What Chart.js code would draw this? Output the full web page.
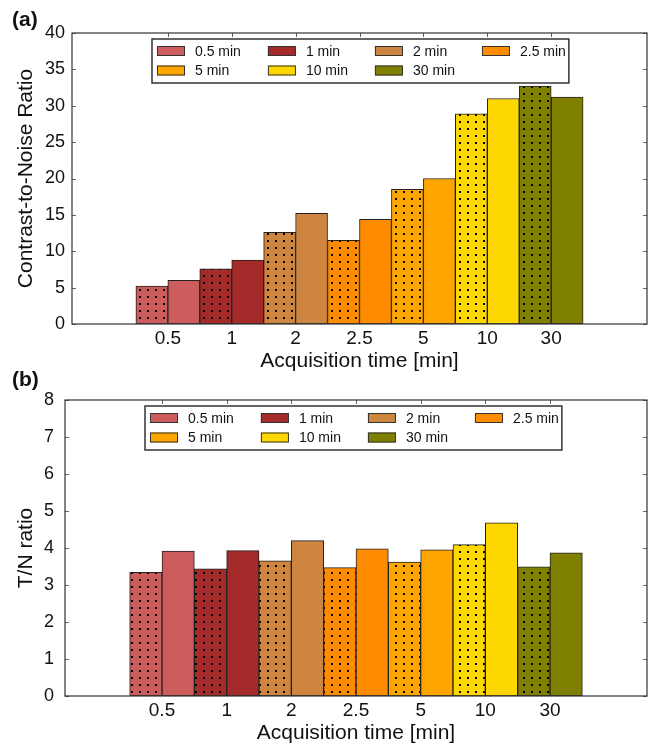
<!DOCTYPE html>
<html>
<head>
<meta charset="utf-8">
<script src="https://cdn.jsdelivr.net/npm/chart.js@4.4.1/dist/chart.umd.min.js"></script>
<style>
    html, body { margin: 0; padding: 0; background: #fff; }
    body { width: 654px; height: 750px; position: relative; overflow: hidden; }
    .panel { position: absolute; left: 0; width: 654px; }
    #panelA { top: 0; height: 380px; }
    #panelB { top: 360px; height: 390px; }
</style>
</head>
<body>
<div class="panel" id="panelA"><canvas id="cnrChart" width="654" height="380"></canvas></div>
<div class="panel" id="panelB"><canvas id="tnChart" width="654" height="390"></canvas></div>
<script>
// Acquisition times on the x axis
const acqTimes = ['0.5', '1', '2', '2.5', '5', '10', '30'];
const legendLabels = ['0.5 min', '1 min', '2 min', '2.5 min', '5 min', '10 min', '30 min'];
const barColors = ['#cd5c5c', '#a52a2a', '#cd853f', '#ff8c00', '#ffa500', '#ffd700', '#808000'];

// (a) contrast-to-noise ratio: dotted bar first, plain bar second
const cnrDotted = [5.2, 7.6, 12.6, 11.5, 18.5, 28.9, 32.7];
const cnrPlain = [6.0, 8.8, 15.2, 14.4, 20.0, 31.0, 31.2];
const cnrTicks = [0, 5, 10, 15, 20, 25, 30, 35, 40];

// (b) T/N ratio
const tnDotted = [3.34, 3.44, 3.65, 3.47, 3.62, 4.09, 3.49];
const tnPlain = [3.92, 3.93, 4.20, 3.98, 3.95, 4.68, 3.87];
const tnTicks = [0, 1, 2, 3, 4, 5, 6, 7, 8];

const FONT = '"Liberation Sans", Arial, Helvetica, sans-serif';
Chart.defaults.font.family = FONT;
Chart.defaults.color = '#111';

// dotted hatch like matplotlib '.'
function makeDots(color) {
    const c = document.createElement('canvas');
    c.width = 8;
    c.height = 7;
    const g = c.getContext('2d');
    g.fillStyle = color;
    g.fillRect(0, 0, 8, 7);
    g.fillStyle = '#000';
    g.fillRect(3, 2, 2, 2);
    return g.createPattern(c, 'repeat');
}

// frame + inward ticks, matplotlib classic style
const panelFrame = {
    id: 'panelFrame',
    afterDatasetsDraw(chart) {
        const { ctx, chartArea: a, scales: { x, y } } = chart;
        ctx.save();
        ctx.strokeStyle = '#666';
        ctx.lineWidth = 1;
        ctx.beginPath();
        y.ticks.forEach(t => {
            const py = Math.round(y.getPixelForValue(t.value)) + 0.5;
            ctx.moveTo(a.left, py); ctx.lineTo(a.left + 4, py);
            ctx.moveTo(a.right, py); ctx.lineTo(a.right - 4, py);
        });
        for (let i = 1; i <= acqTimes.length; i++) {
            const px = Math.round(x.getPixelForValue(i)) + 0.5;
            ctx.moveTo(px, a.top); ctx.lineTo(px, a.top + 4);
        }
        ctx.stroke();
        ctx.strokeStyle = '#333';
        ctx.lineWidth = 1.2;
        ctx.strokeRect(a.left, a.top, a.right - a.left, a.bottom - a.top);
        ctx.restore();
    }
};

// legend box drawn inside the plot area, 4 columns
const inlineLegend = {
    id: 'inlineLegend',
    afterDraw(chart, args, o) {
        const { ctx, chartArea: a } = chart;
        ctx.save();
        ctx.font = '14px ' + FONT;
        const cols = 4;
        const colW = [];
        for (let c = 0; c < cols; c++) {
            let w = 0;
            for (let i = c; i < legendLabels.length; i += cols) {
                w = Math.max(w, ctx.measureText(legendLabels[i]).width);
            }
            colW.push(w);
        }
        const swW = 28, swH = 10, txtGap = 10, colGap = 27, padL = 5, padR = 3;
        const x0 = a.left + o.left, y0 = a.top + o.top;
        let boxW = padL + padR;
        colW.forEach((w, i) => { boxW += swW + txtGap + w + (i < cols - 1 ? colGap : 0); });
        const boxH = 44;
        ctx.fillStyle = '#fff';
        ctx.fillRect(x0, y0, boxW, boxH);
        ctx.strokeStyle = '#333';
        ctx.lineWidth = 1.5;
        ctx.strokeRect(x0, y0, boxW, boxH);

        ctx.textBaseline = 'middle';
        ctx.textAlign = 'left';
        legendLabels.forEach((lab, i) => {
            const c = i % cols, r = Math.floor(i / cols);
            let sx = x0 + padL;
            for (let k = 0; k < c; k++) sx += swW + txtGap + colW[k] + colGap;
            const cy = y0 + 12 + r * 19.5;
            ctx.fillStyle = barColors[i];
            ctx.fillRect(sx, cy - swH / 2, swW, swH);
            ctx.strokeStyle = '#333';
            ctx.lineWidth = 1;
            ctx.strokeRect(sx + 0.5, cy - swH / 2 + 0.5, swW - 1, swH - 1);
            ctx.fillStyle = '#111';
            ctx.fillText(lab, sx + swW + txtGap, cy + 1);
        });
        ctx.restore();
    }
};

// "(a)" / "(b)" panel letters
const panelLetter = {
    id: 'panelLetter',
    afterDraw(chart, args, o) {
        const ctx = chart.ctx;
        ctx.save();
        ctx.font = 'bold 21px ' + FONT;
        ctx.fillStyle = '#111';
        ctx.textBaseline = 'alphabetic';
        ctx.fillText(o.text, 12, 26);
        ctx.restore();
    }
};

function buildPanel(id, cfg) {
    const ctx = document.getElementById(id).getContext('2d');
    const pad = arr => [null].concat(arr, [null]);
    const cats = [''].concat(acqTimes, ['']);
    const dotFills = ['transparent'].concat(barColors.map(makeDots), ['transparent']);
    const plainFills = ['transparent'].concat(barColors, ['transparent']);

    return new Chart(ctx, {
        type: 'bar',
        data: {
            labels: cats,
            datasets: [
                {
                    label: 'dotted',
                    data: pad(cfg.dotted),
                    backgroundColor: dotFills,
                    borderColor: '#222',
                    borderWidth: 1,
                    borderSkipped: false,
                    barPercentage: 1,
                    categoryPercentage: 1
                },
                {
                    label: 'plain',
                    data: pad(cfg.plain),
                    backgroundColor: plainFills,
                    borderColor: '#222',
                    borderWidth: 1,
                    borderSkipped: false,
                    barPercentage: 1,
                    categoryPercentage: 1
                }
            ]
        },
        options: {
            responsive: false,
            animation: false,
            devicePixelRatio: 1,
            layout: { padding: { top: cfg.padTop, right: 7, left: 0, bottom: 0 } },
            scales: {
                x: {
                    type: 'category',
                    offset: true,
                    grid: { display: false, drawTicks: false },
                    border: { display: false },
                    ticks: { font: { size: 19 }, color: '#111', padding: 3, maxRotation: 0, autoSkip: false },
                    title: {
                        display: true,
                        text: 'Acquisition time [min]',
                        font: { size: 21 },
                        color: '#111',
                        padding: { top: 0, bottom: cfg.xTitlePad }
                    },
                    afterFit: s => { s.height = cfg.xHeight; }
                },
                y: {
                    min: cfg.ticks[0],
                    max: cfg.ticks[cfg.ticks.length - 1],
                    afterBuildTicks: s => { s.ticks = cfg.ticks.map(v => ({ value: v })); },
                    grid: { display: false, drawTicks: false },
                    border: { display: false },
                    ticks: { font: { size: 18 }, color: '#111', padding: cfg.yTickPad },
                    title: {
                        display: true,
                        text: cfg.yTitle,
                        font: { size: 21 },
                        color: '#111',
                        padding: { top: 14, bottom: 0 }
                    },
                    afterFit: s => { s.width = cfg.yWidth; }
                }
            },
            plugins: {
                legend: { display: false },
                tooltip: { enabled: false },
                inlineLegend: { left: 80, top: 6 },
                panelLetter: { text: cfg.letter }
            }
        },
        plugins: [panelFrame, inlineLegend, panelLetter]
    });
}

buildPanel('cnrChart', {
    dotted: cnrDotted, plain: cnrPlain, ticks: cnrTicks,
    yTitle: 'Contrast-to-Noise Ratio', letter: '(a)',
    padTop: 33, xHeight: 56, xTitlePad: 6, yWidth: 72, yTickPad: 7
});

buildPanel('tnChart', {
    dotted: tnDotted, plain: tnPlain, ticks: tnTicks,
    yTitle: 'T/N ratio', letter: '(b)',
    padTop: 40, xHeight: 54, xTitlePad: 4, yWidth: 65, yTickPad: 11
});
</script>
</body>
</html>
